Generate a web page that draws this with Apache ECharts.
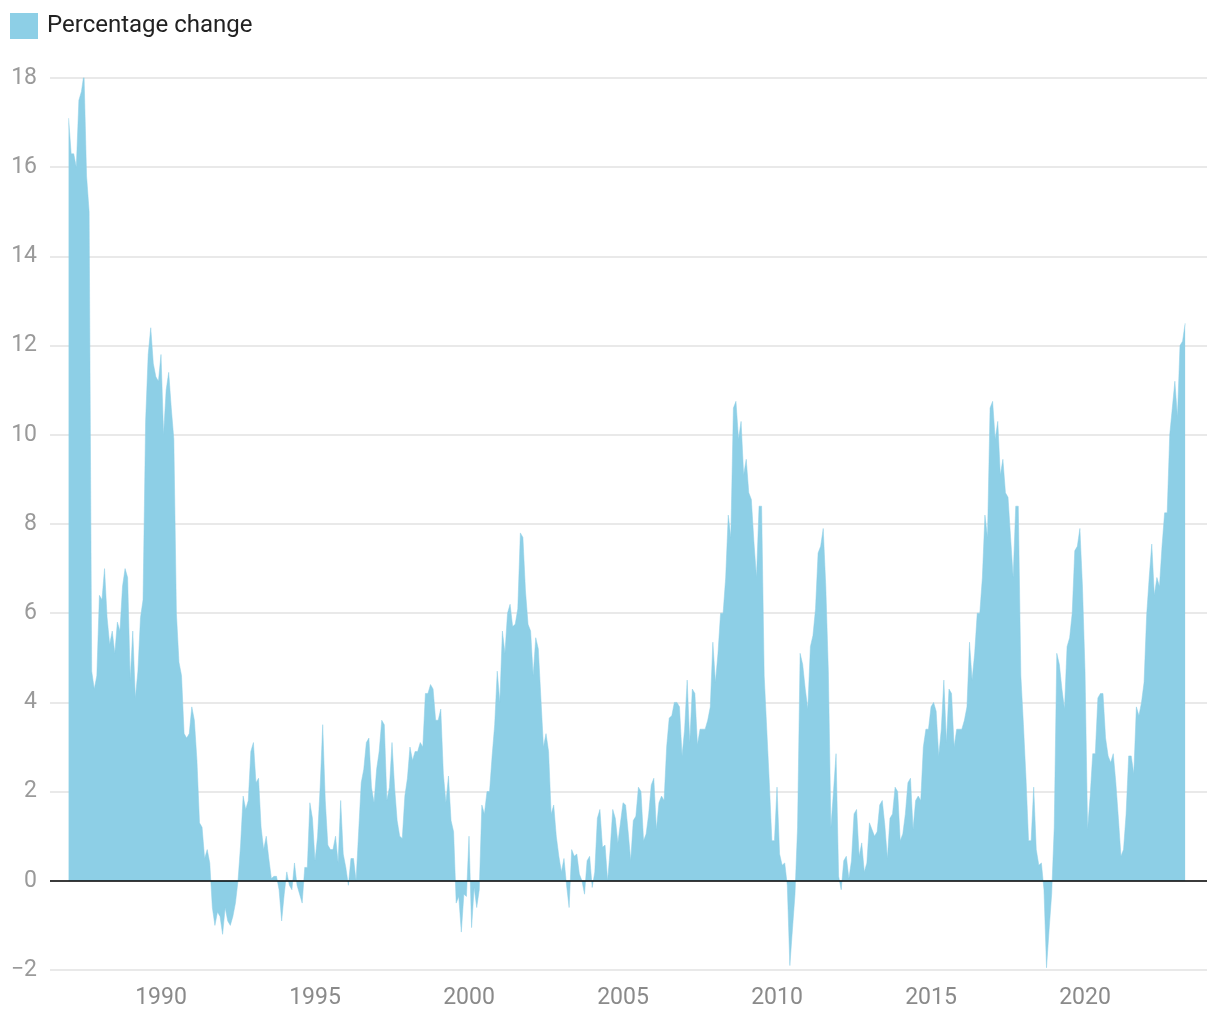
<!DOCTYPE html>
<html>
<head>
<meta charset="utf-8">
<script src="https://cdn.jsdelivr.net/npm/echarts@6/dist/echarts.min.js"></script>
<style>
  html, body { margin: 0; padding: 0; background: #ffffff; }
  #chart { width: 1220px; height: 1020px; }
</style>
</head>
<body>
<div id="chart"></div>
<script>
// Monthly percentage change, starting January 1987
const startYear = 1987;
const seriesName = 'Percentage change';
const values = [
  // 1987
  17.1, 16.3, 16.3, 16.0, 17.5, 17.7, 18.1, 15.8, 15.0, 4.7, 4.3, 4.6,
  // 1988
  6.4, 6.3, 7.0, 5.9, 5.3, 5.6, 5.1, 5.8, 5.6, 6.6, 7.0, 6.8,
  // 1989
  4.5, 5.6, 4.1, 4.7, 5.9, 6.3, 10.3, 11.8, 12.4, 11.6, 11.3, 11.2,
  // 1990
  11.8, 10.0, 11.0, 11.4, 10.6, 9.9, 6.0, 4.9, 4.6, 3.3, 3.2, 3.3,
  // 1991
  3.9, 3.6, 2.7, 1.3, 1.2, 0.5, 0.7, 0.4, -0.6, -1.0, -0.7, -0.8,
  // 1992
  -1.2, -0.6, -0.9, -1.0, -0.8, -0.5, 0.0, 0.8, 1.9, 1.6, 1.8, 2.9,
  // 1993
  3.1, 2.2, 2.3, 1.2, 0.7, 1.0, 0.5, 0.05, 0.1, 0.1, -0.2, -0.9,
  // 1994
  -0.3, 0.2, -0.1, -0.2, 0.4, -0.1, -0.3, -0.5, 0.3, 0.3, 1.75, 1.4,
  // 1995
  0.45, 1.0, 2.1, 3.5, 1.8, 0.8, 0.7, 0.7, 1.0, 0.4, 1.8, 0.6,
  // 1996
  0.3, -0.1, 0.5, 0.5, 0.0, 1.1, 2.2, 2.5, 3.1, 3.2, 2.1, 1.75,
  // 1997
  2.5, 2.9, 3.6, 3.5, 1.8, 2.1, 3.1, 2.1, 1.35, 1.0, 0.95, 1.9,
  // 1998
  2.3, 3.0, 2.7, 2.9, 2.9, 3.1, 3.0, 4.2, 4.2, 4.4, 4.3, 3.6,
  // 1999
  3.6, 3.85, 2.4, 1.75, 2.35, 1.35, 1.1, -0.5, -0.35, -1.15, -0.3, -0.35,
  // 2000
  1.0, -1.05, -0.15, -0.6, -0.2, 1.7, 1.5, 2.0, 2.0, 2.8, 3.5, 4.7,
  // 2001
  4.0, 5.6, 5.1, 6.0, 6.2, 5.7, 5.75, 6.1, 7.8, 7.7, 6.5, 5.75,
  // 2002
  5.6, 4.6, 5.45, 5.2, 4.1, 3.0, 3.3, 2.9, 1.5, 1.7, 1.0, 0.55,
  // 2003
  0.2, 0.5, -0.1, -0.6, 0.7, 0.55, 0.6, 0.15, 0.0, -0.3, 0.45, 0.55,
  // 2004
  -0.15, 0.2, 1.4, 1.6, 0.75, 0.8, 0.0, 0.7, 1.6, 1.4, 0.85, 1.3,
  // 2005
  1.75, 1.7, 1.1, 0.45, 1.35, 1.45, 2.1, 2.0, 0.9, 1.05, 1.5, 2.15,
  // 2006
  2.3, 1.15, 1.75, 1.9, 1.8, 3.0, 3.65, 3.7, 4.0, 4.0, 3.9, 2.8,
  // 2007
  3.4, 4.5, 3.1, 4.3, 4.2, 3.05, 3.4, 3.4, 3.4, 3.6, 3.9, 5.35,
  // 2008
  4.45, 5.1, 6.0, 6.0, 6.8, 8.2, 7.7, 10.6, 10.75, 9.9, 10.3, 9.1,
  // 2009
  9.45, 8.7, 8.55, 7.6, 6.8, 8.4, 8.4, 4.6, 3.4, 2.2, 0.9, 0.9,
  // 2010
  2.1, 0.6, 0.35, 0.4, -0.1, -1.9, -1.1, -0.3, 1.2, 5.1, 4.85, 4.3,
  // 2011
  3.85, 5.25, 5.5, 6.1, 7.35, 7.5, 7.9, 6.6, 4.7, 1.2, 2.0, 2.85,
  // 2012
  0.1, -0.2, 0.45, 0.55, 0.05, 0.45, 1.5, 1.6, 0.55, 0.85, 0.2, 0.4,
  // 2013
  1.3, 1.15, 1.0, 1.1, 1.7, 1.8, 1.25, 0.5, 1.4, 1.5, 2.1, 2.0,
  // 2014
  0.9, 1.05, 1.5, 2.2, 2.3, 1.15, 1.8, 1.9, 1.8, 3.0, 3.4, 3.4,
  // 2015
  3.9, 4.0, 3.8, 2.8, 3.4, 4.5, 3.1, 4.3, 4.2, 3.0, 3.4, 3.4,
  // 2016
  3.4, 3.6, 3.9, 5.35, 4.5, 5.1, 6.0, 6.0, 6.8, 8.2, 7.7, 10.6,
  // 2017
  10.75, 9.9, 10.3, 9.1, 9.45, 8.7, 8.6, 7.7, 6.8, 8.4, 8.4, 4.6,
  // 2018
  3.5, 2.3, 0.9, 0.9, 2.1, 0.7, 0.35, 0.4, -0.2, -1.95, -1.1, -0.3,
  // 2019
  1.2, 5.1, 4.85, 4.3, 3.85, 5.25, 5.45, 6.0, 7.4, 7.5, 7.9, 6.6,
  // 2020
  4.7, 1.15, 1.9, 2.85, 2.85, 4.1, 4.2, 4.2, 3.2, 2.8, 2.65, 2.85,
  // 2021
  2.2, 1.4, 0.55, 0.7, 1.5, 2.8, 2.8, 2.4, 3.9, 3.7, 4.0, 4.45,
  // 2022
  5.95, 6.8, 7.55, 6.4, 6.8, 6.6, 7.5, 8.25, 8.25, 10.0, 10.6, 11.2,
  // 2023
  10.4, 12.0, 12.1, 12.5
];
const yearTicks = [1990, 1995, 2000, 2005, 2010, 2015, 2020];

const points = values.map((v, i) => [startYear + i / 12, v]);

const areaColor = '#8dcfe6';
const chart = echarts.init(document.getElementById('chart'), null, { renderer: 'canvas' });
chart.setOption({
  animation: false,
  backgroundColor: '#ffffff',
  textStyle: { fontFamily: 'Roboto' },
  legend: {
    left: 10, top: 13,
    padding: 0,
    icon: 'rect',
    itemWidth: 28, itemHeight: 26,
    textStyle: { fontSize: 24, color: '#222222', fontFamily: 'Roboto', padding: [2, 0, 0, 4] },
    data: [seriesName]
  },
  grid: { left: 50, right: 13, top: 78, bottom: 50, containLabel: false },
  xAxis: {
    type: 'value',
    min: 1986.396,
    max: 2023.96,
    axisLine: { show: false },
    axisTick: { show: false },
    splitLine: { show: false },
    axisLabel: {
      customValues: yearTicks,
      formatter: v => String(v),
      color: '#8a8a8a', fontSize: 23, margin: 17, fontFamily: 'Roboto'
    }
  },
  yAxis: {
    type: 'value',
    min: -2, max: 18, interval: 2,
    axisLine: { show: false },
    axisTick: { show: false },
    splitLine: { lineStyle: { color: '#e2e2e2', width: 1.5 } },
    axisLabel: {
      formatter: v => (v < 0 ? '\u2212' + Math.abs(v) : String(v)),
      color: '#9a9a9a', fontSize: 23, margin: 13, fontFamily: 'Roboto',
      padding: [4, 0, 0, 0]
    }
  },
  series: [{
    name: seriesName,
    type: 'line',
    data: points,
    symbol: 'none',
    smooth: false,
    itemStyle: { color: areaColor },
    lineStyle: { width: 0.5, color: areaColor },
    areaStyle: { color: areaColor, opacity: 1 },
    markLine: {
      silent: true,
      symbol: ['none', 'none'],
      label: { show: false },
      lineStyle: { color: '#000000', width: 1.5, type: 'solid' },
      data: [{ yAxis: 0 }]
    },
    z: 2
  }]
});
</script>
</body>
</html>
